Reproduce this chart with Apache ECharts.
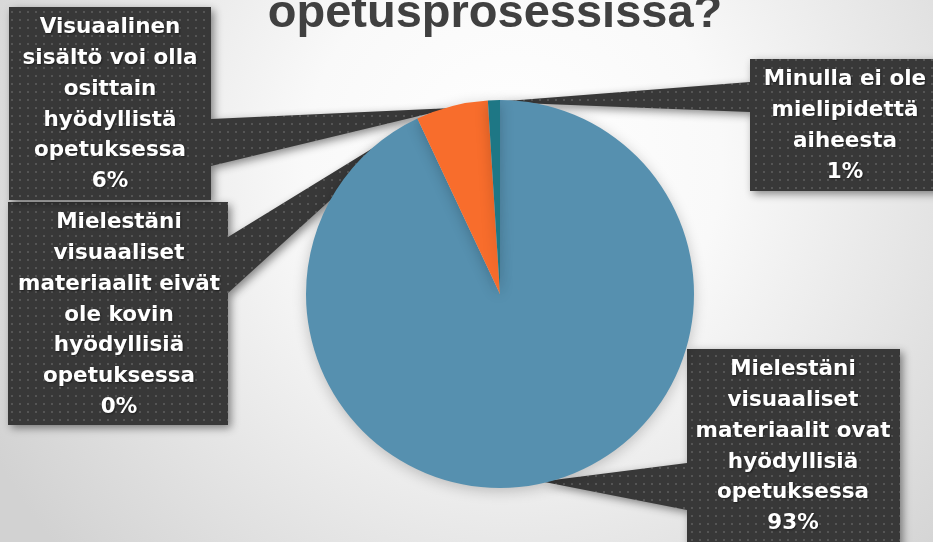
<!DOCTYPE html>
<html>
<head>
<meta charset="utf-8">
<title>opetusprosessissa?</title>
<script src="https://cdn.jsdelivr.net/npm/echarts@6/dist/echarts.min.js"></script>
<style>
  html, body { margin: 0; padding: 0; overflow: hidden; }
  #chart { width: 933px; height: 542px; }
</style>
</head>
<body>
<div id="chart"></div>
<script>
// Survey answers, in pie order (clockwise from 12 o'clock)
const titleText = 'opetusprosessissa?';
const categories = [
  'Mielestäni\nvisuaaliset\nmateriaalit ovat\nhyödyllisiä\nopetuksessa',
  'Mielestäni\nvisuaaliset\nmateriaalit eivät\nole kovin\nhyödyllisiä\nopetuksessa',
  'Visuaalinen\nsisältö voi olla\nosittain\nhyödyllistä\nopetuksessa',
  'Minulla ei ole\nmielipidettä\naiheesta'
];
const shares = [93, 0, 6, 1];
const sliceColors = ['#5690AF', '#8C8C8C', '#F86D2C', '#1E7785'];

// Pie geometry
const PIE_CENTER = [500, 294];
const PIE_RADIUS = 194;

// Callout boxes: [x, y, width, height], side facing the pie, wedge base span, text centre
const callouts = [
  { box: [687, 349, 213, 200], side: 'left',  base: [463, 510], textX: 793 },
  { box: [8, 202, 220, 223],   side: 'right', base: [237, 293], textX: 119 },
  { box: [9, 7, 202, 193],     side: 'right', base: [119, 166], textX: 110 },
  { box: [750, 59, 195, 132],  side: 'left',  base: [82, 112],  textX: 845 }
];

// Dark dotted fill used by the callouts
function dotPattern() {
  const c = document.createElement('canvas');
  c.width = 8; c.height = 8;
  const g = c.getContext('2d');
  g.fillStyle = '#383838';
  g.fillRect(0, 0, 8, 8);
  g.fillStyle = '#555555';
  g.fillRect(3, 3, 2, 2);
  return c;
}
const pattern = { image: dotPattern(), repeat: 'repeat' };

// Point on the outer arc in the middle of each slice
function sliceTip(index) {
  const total = shares.reduce((a, b) => a + b, 0);
  let before = 0;
  for (let i = 0; i < index; i++) before += shares[i];
  const frac = (before + shares[index] / 2) / total;
  const theta = frac * Math.PI * 2;
  const r = PIE_RADIUS - 2;
  return [PIE_CENTER[0] + r * Math.sin(theta), PIE_CENTER[1] - r * Math.cos(theta)];
}

function calloutShape(c, tip) {
  const [x, y, w, h] = c.box;
  const x1 = x + w, y1 = y + h;
  if (c.side === 'left') {
    return [[x, y], [x1, y], [x1, y1], [x, y1], [x, c.base[1]], tip, [x, c.base[0]]];
  }
  return [[x, y], [x1, y], [x1, c.base[0]], tip, [x1, c.base[1]], [x1, y1], [x, y1]];
}

const calloutGraphics = callouts.map((c, i) => ({
  type: 'polygon',
  z: 0,
  silent: true,
  shape: { points: calloutShape(c, sliceTip(i)) },
  style: {
    fill: pattern,
    shadowBlur: 8,
    shadowOffsetX: 3,
    shadowOffsetY: 3,
    shadowColor: 'rgba(0,0,0,0.45)'
  }
}));

const chart = echarts.init(document.getElementById('chart'), null, { renderer: 'canvas' });

chart.setOption({
  animation: false,
  backgroundColor: {
    type: 'radial',
    x: 0.55, y: 0.3, r: 1.1,
    colorStops: [
      { offset: 0, color: '#ffffff' },
      { offset: 0.35, color: '#f9f9f9' },
      { offset: 1, color: '#d2d2d2' }
    ]
  },
  title: {
    text: titleText,
    left: 495,
    top: -9,
    padding: 0,
    textAlign: 'center',
    textStyle: {
      fontFamily: 'Liberation Sans',
      fontWeight: 'bold',
      fontSize: 47,
      lineHeight: 47,
      color: '#404040'
    }
  },
  graphic: calloutGraphics,
  series: [{
    type: 'pie',
    z: 2,
    center: PIE_CENTER,
    radius: PIE_RADIUS,
    startAngle: 90,
    clockwise: true,
    avoidLabelOverlap: false,
    silent: true,
    itemStyle: {
      borderWidth: 0,
      shadowBlur: 14,
      shadowOffsetY: 3,
      shadowColor: 'rgba(0,0,0,0.22)'
    },
    label: {
      show: true,
      formatter: '{b}\n{d}%',
      color: '#ffffff',
      fontFamily: 'DejaVu Sans',
      fontWeight: 'bold',
      fontSize: 21.5,
      lineHeight: 30.7,
      align: 'center',
      textShadowColor: 'rgba(0,0,0,0.45)',
      textShadowBlur: 2,
      textShadowOffsetX: 1,
      textShadowOffsetY: 1
    },
    labelLine: { show: false },
    labelLayout: function (p) {
      const c = callouts[p.dataIndex];
      return { x: c.textX, y: c.box[1] + 5.5, align: 'center', verticalAlign: 'top' };
    },
    data: categories.map((name, i) => ({
      name: name,
      value: shares[i],
      itemStyle: { color: sliceColors[i] }
    }))
  }]
});
</script>
</body>
</html>
